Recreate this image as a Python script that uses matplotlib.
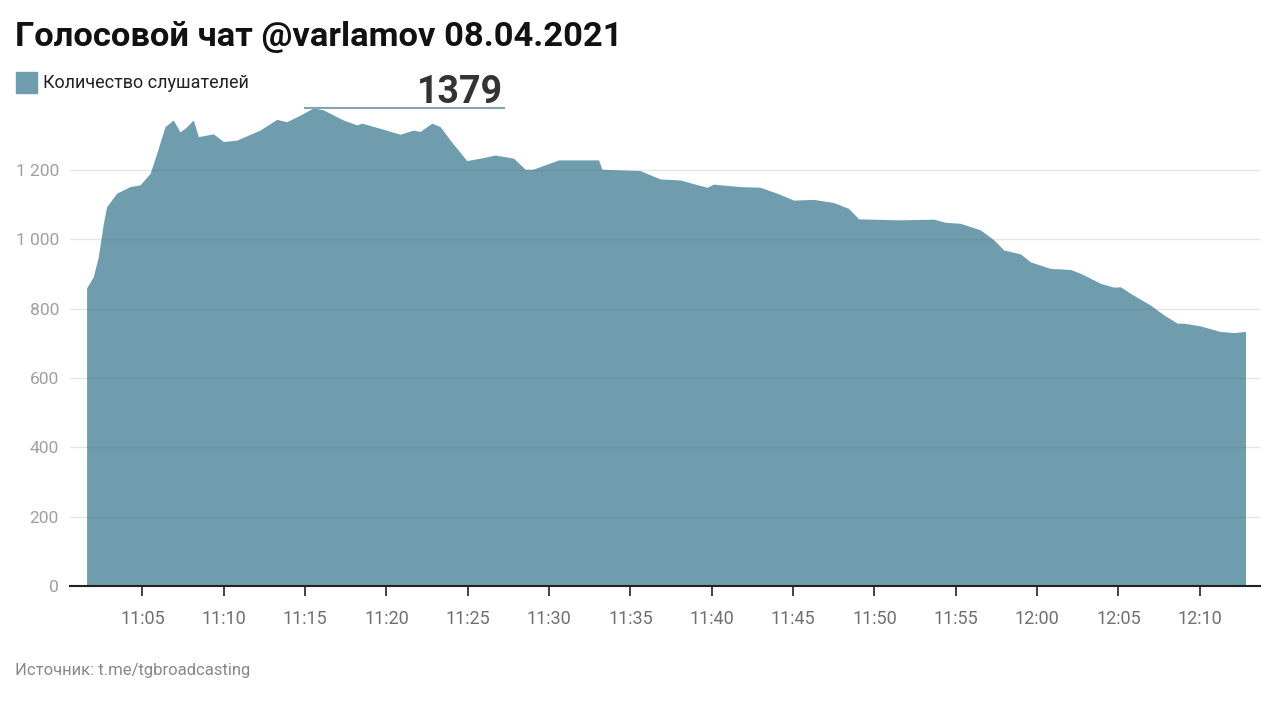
import matplotlib
matplotlib.use("Agg")
import matplotlib.pyplot as plt
from matplotlib.patches import Rectangle

plt.rcParams['font.family'] = ['Roboto', 'DejaVu Sans']

# minutes after 11:00 and number of listeners
minutes = [1.57, 1.98, 2.29, 2.6, 2.8, 3.42, 4.24, 4.85, 5.47, 5.88, 6.39, 6.9, 7.31,
           7.62, 8.13, 8.44, 9.36, 9.98, 10.8, 12.23, 13.26, 13.87, 14.69, 15.51,
           16.13, 17.35, 18.18, 18.49, 19.61, 20.84, 21.66, 22.07, 22.79, 23.3,
           23.92, 24.94, 25.76, 26.69, 27.81, 28.53, 29.0, 30.6, 33.04, 33.25,
           35.6, 36.83, 38.06, 39.7, 40.1, 41.75, 42.98, 44.0, 45.03, 46.26,
           47.49, 48.41, 49.03, 51.59, 53.64, 54.36, 55.29, 56.52, 57.34, 57.95,
           58.97, 59.58, 60.81, 62.04, 62.66, 63.89, 64.71, 65.12, 65.74, 66.97,
           67.79, 68.61, 69.02, 70.04, 71.27, 72.09, 72.81]
listeners = [860, 892, 950, 1046, 1094, 1133, 1152, 1157, 1190, 1248, 1325, 1344, 1310,
             1320, 1344, 1296, 1304, 1282, 1286, 1315, 1346, 1339, 1358, 1379,
             1373, 1344, 1330, 1335, 1320, 1303, 1315, 1311, 1335, 1325,
             1286, 1227, 1234, 1243, 1234, 1202, 1202, 1229, 1229, 1202,
             1198, 1174, 1171, 1150, 1159, 1152, 1150, 1133, 1113, 1115,
             1106, 1089, 1059, 1056, 1058, 1049, 1046, 1027, 998, 969,
             958, 935, 916, 913, 902, 873, 862, 863, 844, 810,
             782, 758, 758, 750, 734, 731, 734]

tick_minutes = list(range(5, 75, 5))
tick_labels = ['11:05', '11:10', '11:15', '11:20', '11:25', '11:30', '11:35',
               '11:40', '11:45', '11:50', '11:55', '12:00', '12:05', '12:10']
y_ticks = [0, 200, 400, 600, 800, 1000, 1200]
y_labels = ['0', '200', '400', '600', '800', '1 000', '1 200']
peak = max(listeners)

W, H = 1280, 704
fig = plt.figure(figsize=(W / 100, H / 100), dpi=100)
ax = fig.add_axes([70 / W, 1 - 586 / H, 1190 / W, 485.4 / H])

fill_color = '#6f9dae'
ax.fill_between(minutes, listeners, 0, color=fill_color, lw=0, zorder=1)
ax.set_xlim(0.55, 73.7)
ax.set_ylim(0, 1400)

for v in y_ticks[1:]:
    ax.axhline(v, color='#555555', alpha=0.15, lw=1, zorder=2)

ax.set_yticks(y_ticks)
ax.set_yticklabels(y_labels, color='#a0a0a0', fontsize=12.5)
ax.tick_params(axis='y', length=0, pad=8)
ax.set_xticks(tick_minutes)
ax.set_xticklabels(tick_labels, color='#707070', fontsize=13)
ax.tick_params(axis='x', length=7, width=1.2, color='#222222', pad=10, direction='out')

for s in ['top', 'right', 'left']:
    ax.spines[s].set_visible(False)
ax.spines['bottom'].set_color('#222222')
ax.spines['bottom'].set_linewidth(1.5)

# peak annotation
ax.plot([15.0, 27.2], [peak, peak], color='#7ea6b6', lw=1.5, clip_on=False, zorder=3)
ax.text(27.2, peak + 14, str(peak), ha='right', va='baseline', fontsize=27,
        fontweight='bold', color='#333333', clip_on=False)

fig.text(15 / W, 1 - 37 / H, 'Голосовой чат @varlamov 08.04.2021', fontsize=24.8,
         fontweight='bold', color='#111111', va='center', ha='left')
fig.patches.append(Rectangle((16 / W, 1 - 93 / H), 21 / W, 21 / H,
                             transform=fig.transFigure, color=fill_color, figure=fig))
fig.text(43 / W, 1 - 83 / H, 'Количество слушателей', fontsize=13,
         color='#222222', va='center', ha='left')
fig.text(15 / W, 1 - 670 / H, 'Источник: t.me/tgbroadcasting', fontsize=12,
         color='#888888', va='center', ha='left')

fig.savefig('out.png', dpi=100)
